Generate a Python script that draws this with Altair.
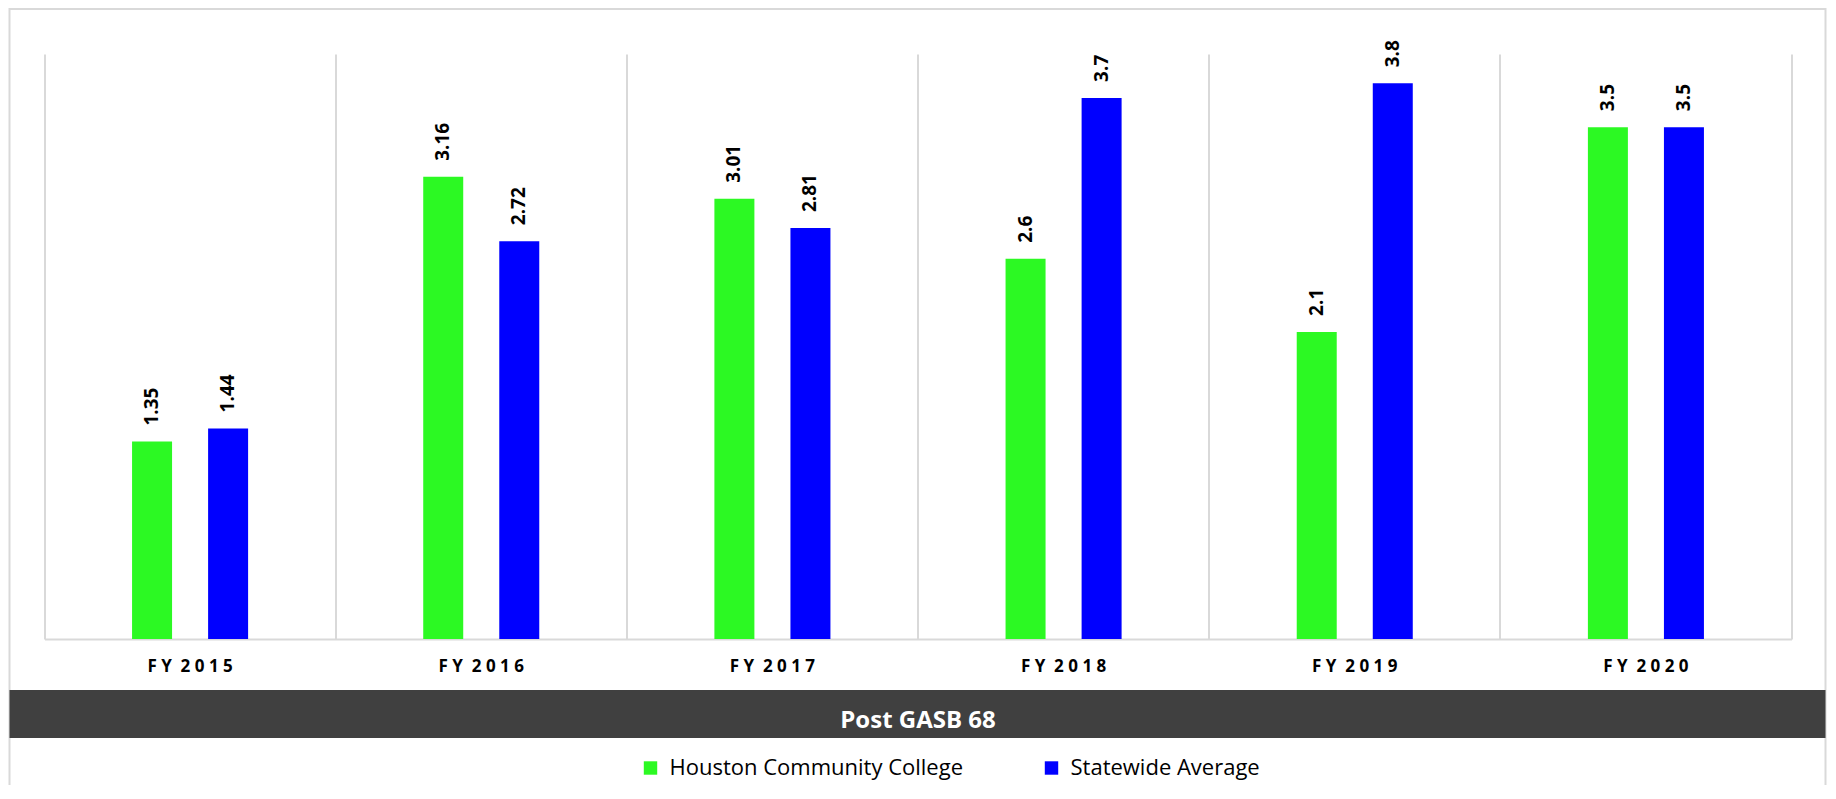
import altair as alt
import pandas as pd

years = ["FY 2015", "FY 2016", "FY 2017", "FY 2018", "FY 2019", "FY 2020"]
hcc = [1.35, 3.16, 3.01, 2.6, 2.1, 3.5]
state = [1.44, 2.72, 2.81, 3.7, 3.8, 3.5]
series = ["Houston Community College", "Statewide Average"]
colors = ["#2CF923", "#0000FF"]
band_label = ["Post GASB 68"]

rows = []
for i, yr in enumerate(years):
    rows.append({"year": yr, "series": series[0], "value": hcc[i]})
    rows.append({"year": yr, "series": series[1], "value": state[i]})
df = pd.DataFrame(rows)

W = 1747
H = 585
FONT = "Open Sans"
GRID = "#d9d9d9"
NB = "\u00a0"

label_expr = (
    f"join(split(substring(datum.label, 0, 2), ''), '{NB}') + '{NB}{NB}' + "
    f"join(split(substring(datum.label, 3), ''), '{NB}')"
)

x = alt.X(
    "year:N", sort=years,
    scale=alt.Scale(paddingInner=0, paddingOuter=0),
    axis=alt.Axis(title=None, grid=True, bandPosition=0, gridColor=GRID, gridWidth=2,
                  domainColor=GRID, domainWidth=2, ticks=False, tickSize=0, labelAngle=0,
                  labelFont=FONT, labelFontSize=17, labelFontWeight="bold",
                  labelColor="#000", labelPadding=32, labelBaseline="alphabetic",
                  labelExpr=label_expr),
)
xoff = alt.XOffset("series:N", sort=series,
                   scale=alt.Scale(paddingInner=0.171, paddingOuter=1))
y = alt.Y("value:Q", scale=alt.Scale(domain=[0, 4], nice=False),
          axis=alt.Axis(orient="right", title=None, labels=False, ticks=False,
                        grid=False, domainColor=GRID, domainWidth=2))
color = alt.Color(
    "series:N", sort=series,
    scale=alt.Scale(domain=series, range=colors),
    legend=alt.Legend(title=None, orient="none", legendX=595, legendY=703,
                      direction="horizontal", symbolType="square", symbolSize=180,
                      symbolStrokeWidth=0, labelFont=FONT, labelFontSize=22,
                      labelColor="#000", labelOffset=8, columnPadding=77,
                      padding=0, labelLimit=0),
)

base = alt.Chart(df)
bars = base.mark_bar(width=40).encode(x=x, xOffset=xoff, y=y, color=color)
labels = base.mark_text(angle=270, align="left", baseline="middle", dx=16,
                        font=FONT, fontSize=19, fontWeight="bold", color="#000").encode(
    x=x, xOffset=xoff, y=y, text=alt.Text("value:Q", format="~g"))

lab_df = pd.DataFrame({"t": band_label})
border = alt.Chart(lab_df).mark_rect(filled=False, stroke=GRID, strokeWidth=2).encode(
    x=alt.value(-35), x2=alt.value(1781), y=alt.value(-45), y2=alt.value(800))
band = alt.Chart(lab_df).mark_rect(color="#404040").encode(
    x=alt.value(-35), x2=alt.value(1781), y=alt.value(636), y2=alt.value(684))
band_text = alt.Chart(lab_df).mark_text(font=FONT, fontSize=24, fontWeight="bold",
                                         baseline="alphabetic", color="white").encode(
    x=alt.value(W / 2), y=alt.value(674), text="t:N")

chart = alt.layer(border, bars, labels, band, band_text).properties(
    width=W, height=H,
    autosize=alt.AutoSizeParams(type="none"),
    padding={"left": 36.5, "top": 46, "right": 35.5, "bottom": 146},
    background="white",
).configure_view(stroke=None)

chart.save("out.html", embed_options={"renderer": "svg", "actions": False})
